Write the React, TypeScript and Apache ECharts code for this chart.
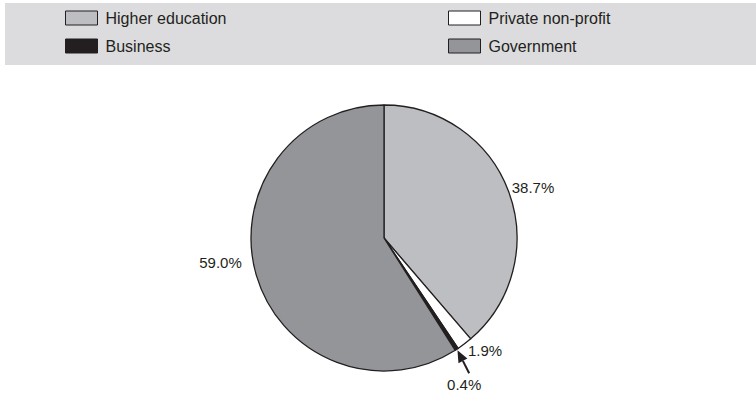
import React, { useEffect, useRef } from "react";
import * as echarts from "echarts";

const categories = ["Higher education", "Private non-profit", "Business", "Government"];
const shares = [38.7, 1.9, 0.4, 59.0];
const labelTexts = ["38.7%", "1.9%", "0.4%", "59.0%"];
const legendLeftColumn = ["Higher education", "Business"];
const legendRightColumn = ["Private non-profit", "Government"];

const COLORS = ["#bdbec1", "#ffffff", "#231f20", "#939598"];
const FONT = "'Liberation Sans', Arial, Helvetica, sans-serif";
const INK = "#231f20";

// layout
const CX = 384;
const CY = 238;
const R = 133;
// per-label offsets from the slice's outer mid-point, and alignment
const LABEL_LAYOUT = [
  { dx: 3, dy: -4, align: "left" },
  { dx: 3.5, dy: 7, align: "left" },
  { dx: 7.5, dy: 35, align: "center" },
  { dx: -14.5, dy: -13, align: "right" },
];

function midPoints() {
  const total = shares.reduce((a, b) => a + b, 0);
  let acc = 0;
  return shares.map((v) => {
    const mid = ((acc + v / 2) / total) * Math.PI * 2;
    acc += v;
    return { x: CX + R * Math.sin(mid), y: CY - R * Math.cos(mid) };
  });
}

export default function App() {
  const ref = useRef<HTMLDivElement>(null);
  useEffect(() => {
    if (!ref.current) return;
    const chart = echarts.init(ref.current, undefined, { renderer: "svg" });
    const mids = midPoints();

    // arrow for the small Business slice
    const bi = categories.indexOf("Business");
    const tip = { x: mids[bi].x + 0.8, y: mids[bi].y + 0.8 };
    const tail = { x: tip.x + 11.7, y: tip.y + 23 };
    const len = Math.hypot(tail.x - tip.x, tail.y - tip.y);
    const ux = (tail.x - tip.x) / len;
    const uy = (tail.y - tip.y) / len;
    const headLen = 12;
    const headHalf = 5;
    const bx = tip.x + ux * headLen;
    const by = tip.y + uy * headLen;

    const legendCommon = {
      orient: "vertical" as const,
      top: 10,
      padding: 0,
      itemWidth: 32,
      itemHeight: 14,
      itemGap: 12,
      icon: "rect",
      itemStyle: { borderColor: INK, borderWidth: 1 },
      textStyle: { fontFamily: FONT, fontSize: 16, color: INK, padding: [0, 0, 0, 3] },
      selectedMode: false,
    };

    chart.setOption({
      animation: false,
      backgroundColor: "#ffffff",
      color: COLORS,
      graphic: [
        {
          type: "rect",
          z: -10,
          silent: true,
          shape: { x: 5, y: 3, width: 751, height: 62 },
          style: { fill: "#dcdcde" },
        },
        {
          type: "line",
          z: 100,
          shape: { x1: bx, y1: by, x2: tail.x, y2: tail.y },
          style: { stroke: INK, lineWidth: 2 },
        },
        {
          type: "polygon",
          z: 100,
          shape: {
            points: [
              [tip.x, tip.y],
              [bx - uy * headHalf, by + ux * headHalf],
              [bx + uy * headHalf, by - ux * headHalf],
            ],
          },
          style: { fill: INK },
        },
      ],
      legend: [
        { ...legendCommon, left: 65, data: legendLeftColumn },
        { ...legendCommon, left: 448, data: legendRightColumn },
      ],
      series: [
        {
          type: "pie",
          center: [CX, CY],
          radius: R,
          startAngle: 90,
          clockwise: true,
          avoidLabelOverlap: false,
          itemStyle: { borderColor: INK, borderWidth: 1.3 },
          label: {
            show: true,
            position: "outside",
            fontFamily: FONT,
            fontSize: 15,
            color: INK,
            formatter: (p: any) => labelTexts[p.dataIndex],
          },
          labelLine: { show: false },
          labelLayout: (p: any) => {
            const m = mids[p.dataIndex];
            const l = LABEL_LAYOUT[p.dataIndex];
            return {
              x: m.x + l.dx,
              y: m.y + l.dy,
              align: l.align,
              verticalAlign: "middle",
            };
          },
          emphasis: { disabled: true },
          data: categories.map((name, i) => ({ name, value: shares[i] })),
        },
      ],
    });
    return () => chart.dispose();
  }, []);
  return (
    <div
      ref={ref}
      style={{ position: "fixed", left: 0, top: 0, width: 756, height: 394 }}
    />
  );
}
